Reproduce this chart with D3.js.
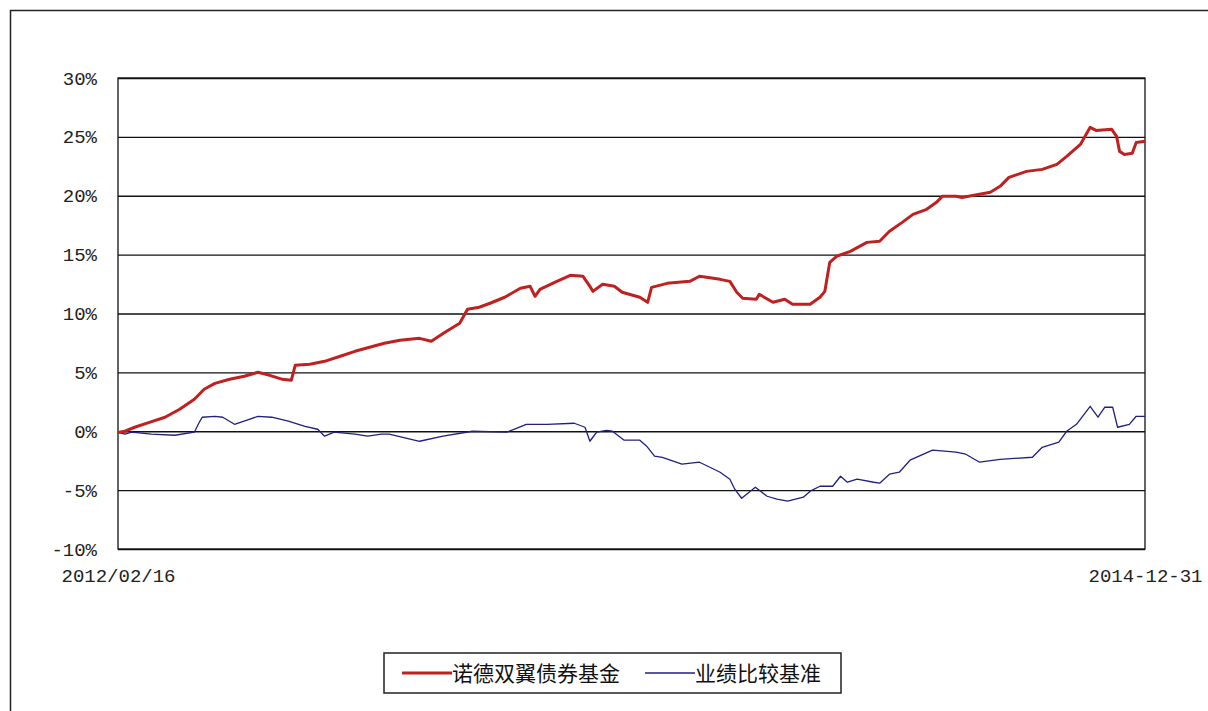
<!DOCTYPE html>
<html>
<head>
<meta charset="utf-8">
<script src="https://cdn.jsdelivr.net/npm/d3@7"></script>
<style>
  body { margin: 0; background: #fff; }
  svg { display: block; }
</style>
</head>
<body>
<div id="chart"></div>
<script>
// fund (red) series
const fundDates = ["2012-02-16","2012-02-23","2012-03-04","2012-03-19","2012-04-04","2012-04-19","2012-05-04","2012-05-14","2012-05-25","2012-06-09","2012-06-24","2012-07-08","2012-07-20","2012-08-02","2012-08-11","2012-08-15","2012-08-30","2012-09-14","2012-09-30","2012-10-15","2012-10-30","2012-11-14","2012-11-30","2012-12-10","2012-12-20","2013-01-01","2013-01-15","2013-01-30","2013-02-07","2013-02-19","2013-03-02","2013-03-17","2013-04-02","2013-04-12","2013-04-17","2013-04-22","2013-05-07","2013-05-23","2013-06-05","2013-06-12","2013-06-15","2013-06-25","2013-07-07","2013-07-15","2013-08-02","2013-08-10","2013-08-14","2013-08-30","2013-09-22","2013-10-02","2013-10-23","2013-11-02","2013-11-09","2013-11-15","2013-11-29","2013-12-02","2013-12-16","2013-12-28","2014-01-05","2014-01-23","2014-02-02","2014-02-07","2014-02-12","2014-02-19","2014-03-05","2014-03-22","2014-04-04","2014-04-14","2014-04-27","2014-05-08","2014-05-22","2014-06-01","2014-06-07","2014-06-21","2014-06-27","2014-07-26","2014-08-05","2014-08-14","2014-09-01","2014-09-17","2014-10-02","2014-10-12","2014-10-26","2014-11-05","2014-11-11","2014-11-27","2014-12-02","2014-12-05","2014-12-10","2014-12-18","2014-12-22","2014-12-31"];
const fundValues = [-0.1,0.0,0.34,0.76,1.19,1.87,2.72,3.57,4.07,4.41,4.67,5.01,4.75,4.41,4.33,5.6,5.69,5.94,6.37,6.79,7.13,7.47,7.72,7.81,7.89,7.64,8.4,9.17,10.36,10.53,10.87,11.38,12.14,12.31,11.46,12.05,12.65,13.24,13.16,12.31,11.88,12.48,12.31,11.8,11.38,10.95,12.22,12.56,12.73,13.16,12.9,12.73,11.8,11.29,11.21,11.63,10.95,11.21,10.78,10.78,11.38,11.88,14.35,14.86,15.28,16.04,16.13,16.98,17.74,18.42,18.85,19.44,19.95,19.95,19.86,20.29,20.8,21.56,22.07,22.24,22.67,23.34,24.36,25.81,25.55,25.64,25.04,23.77,23.51,23.6,24.53,24.62];

// benchmark (blue) series
const benchDates = ["2012-02-16","2012-02-23","2012-03-01","2012-03-21","2012-04-14","2012-05-04","2012-05-09","2012-05-12","2012-05-25","2012-06-02","2012-06-14","2012-06-26","2012-07-08","2012-07-22","2012-08-08","2012-08-25","2012-09-07","2012-09-14","2012-09-24","2012-10-15","2012-10-28","2012-11-11","2012-11-19","2012-12-20","2013-01-13","2013-02-12","2013-03-19","2013-03-29","2013-04-08","2013-04-29","2013-05-27","2013-06-07","2013-06-12","2013-06-15","2013-06-19","2013-06-29","2013-07-05","2013-07-17","2013-08-02","2013-08-09","2013-08-17","2013-08-25","2013-09-14","2013-10-02","2013-10-23","2013-11-02","2013-11-07","2013-11-14","2013-11-28","2013-12-10","2013-12-20","2013-12-31","2014-01-16","2014-01-23","2014-02-02","2014-02-15","2014-02-23","2014-03-02","2014-03-12","2014-03-29","2014-04-04","2014-04-14","2014-04-24","2014-05-05","2014-05-28","2014-06-21","2014-07-01","2014-07-15","2014-08-05","2014-09-07","2014-09-17","2014-10-04","2014-10-12","2014-10-22","2014-11-05","2014-11-13","2014-11-20","2014-11-28","2014-12-03","2014-12-15","2014-12-22","2014-12-31"];
const benchValues = [-0.08,-0.25,-0.08,-0.25,-0.34,-0.08,0.76,1.19,1.27,1.19,0.59,0.93,1.27,1.19,0.85,0.42,0.17,-0.42,-0.08,-0.25,-0.42,-0.25,-0.25,-0.85,-0.42,0.0,-0.08,0.25,0.59,0.59,0.68,0.34,-0.85,-0.51,-0.08,0.08,0.0,-0.76,-0.76,-1.27,-2.12,-2.21,-2.8,-2.63,-3.48,-4.07,-4.92,-5.69,-4.75,-5.52,-5.77,-5.94,-5.6,-5.09,-4.67,-4.67,-3.82,-4.33,-4.07,-4.33,-4.41,-3.65,-3.48,-2.46,-1.61,-1.78,-1.95,-2.63,-2.38,-2.21,-1.36,-0.93,0.0,0.59,2.12,1.19,2.04,2.04,0.34,0.59,1.27,1.27];

const seriesNames = ["诺德双翼债券基金", "业绩比较基准"];
const yTicks = [-10, -5, 0, 5, 10, 15, 20, 25, 30];
const xTickDates = ["2012-02-16", "2014-12-31"];
const xTickLabels = ["2012/02/16", "2014-12-31"];

const W = 1208, H = 711;
const margin = { top: 78, right: 63, bottom: 162, left: 118 };
const innerW = W - margin.left - margin.right;
const innerH = H - margin.top - margin.bottom;

const parse = d3.timeParse("%Y-%m-%d");
const fund = fundDates.map((d, i) => ({ date: parse(d), value: fundValues[i] }));
const bench = benchDates.map((d, i) => ({ date: parse(d), value: benchValues[i] }));

const svg = d3.select("#chart").append("svg")
  .attr("width", W)
  .attr("height", H);

// outer frame
svg.append("path")
  .attr("d", "M10.5," + H + "V10.5H" + W)
  .attr("fill", "none")
  .attr("stroke", "#222")
  .attr("stroke-width", 1.5);

const g = svg.append("g")
  .attr("transform", "translate(" + margin.left + "," + margin.top + ")");

const x = d3.scaleTime()
  .domain([parse(xTickDates[0]), parse(xTickDates[1])])
  .range([0, innerW]);

const y = d3.scaleLinear()
  .domain([-10, 30])
  .range([innerH, 0]);

// y axis + gridlines
const yAxis = g.append("g")
  .call(d3.axisLeft(y)
    .tickValues(yTicks)
    .tickSize(-innerW)
    .tickPadding(21)
    .tickFormat(d => d + "%"));
yAxis.select(".domain").remove();
yAxis.selectAll(".tick line")
  .attr("stroke", "#111")
  .attr("stroke-width", 1.3);
yAxis.selectAll(".tick text")
  .attr("font-family", "'Liberation Mono', 'DejaVu Sans Mono', monospace")
  .attr("font-size", 19)
  .attr("fill", "#222");

// x axis, labels only at both ends
const xAxis = g.append("g")
  .attr("transform", "translate(0," + innerH + ")")
  .call(d3.axisBottom(x)
    .tickValues(xTickDates.map(parse))
    .tickSize(0)
    .tickPadding(20)
    .tickFormat((d, i) => xTickLabels[i]));
xAxis.select(".domain").remove();
xAxis.selectAll(".tick text")
  .attr("font-family", "'Liberation Mono', 'DejaVu Sans Mono', monospace")
  .attr("font-size", 19)
  .attr("fill", "#222");

// plot frame
g.append("rect")
  .attr("x", 0)
  .attr("y", 0)
  .attr("width", innerW)
  .attr("height", innerH)
  .attr("fill", "none")
  .attr("stroke", "#111")
  .attr("stroke-width", 1.3);

const line = d3.line()
  .x(d => x(d.date))
  .y(d => y(d.value));

g.append("path")
  .datum(bench)
  .attr("d", line)
  .attr("fill", "none")
  .attr("stroke", "#202080")
  .attr("stroke-width", 1.3)
  .attr("stroke-linejoin", "round");

g.append("path")
  .datum(fund)
  .attr("d", line)
  .attr("fill", "none")
  .attr("stroke", "#c0201f")
  .attr("stroke-width", 3)
  .attr("stroke-linejoin", "round");

// legend
const legend = svg.append("g");
legend.append("rect")
  .attr("x", 384)
  .attr("y", 653)
  .attr("width", 457)
  .attr("height", 40)
  .attr("fill", "#fff")
  .attr("stroke", "#222")
  .attr("stroke-width", 1.5);

const legendItems = [
  { name: seriesNames[0], color: "#c0201f", width: 3, x0: 402 },
  { name: seriesNames[1], color: "#202080", width: 1.3, x0: 645 }
];
legendItems.forEach(it => {
  legend.append("line")
    .attr("x1", it.x0).attr("x2", it.x0 + 50)
    .attr("y1", 673).attr("y2", 673)
    .attr("stroke", it.color)
    .attr("stroke-width", it.width);
  legend.append("text")
    .attr("x", it.x0 + 50)
    .attr("y", 681)
    .attr("font-family", "'Noto Sans CJK SC', sans-serif")
    .attr("font-size", 21)
    .attr("fill", "#111")
    .text(it.name);
});
</script>
</body>
</html>
